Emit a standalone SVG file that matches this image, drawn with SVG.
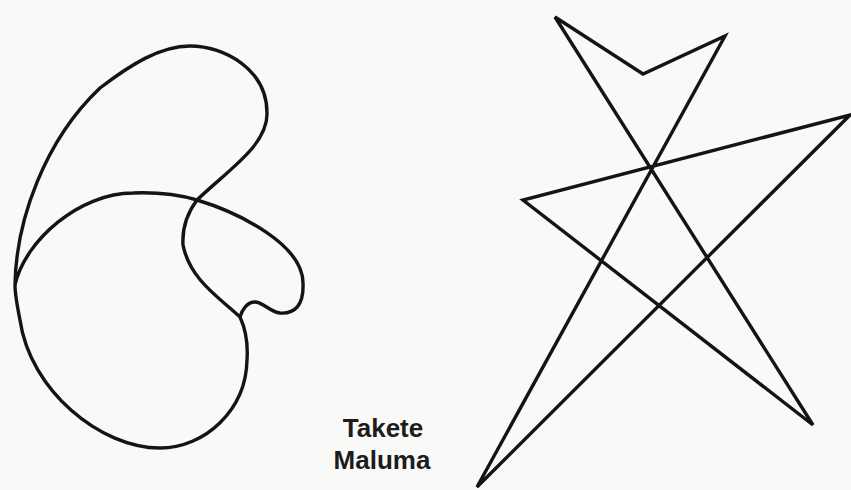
<svg xmlns="http://www.w3.org/2000/svg" width="851" height="490" viewBox="0 0 851 490">
<style>
.shape{fill:none;stroke:#141414;stroke-width:3.4;stroke-linejoin:miter;stroke-linecap:round}
.lbl{font-family:"Liberation Sans",Arial,sans-serif;font-weight:bold;font-size:26px;fill:#1c1c1c;text-anchor:middle}
</style>
<rect width="851" height="490" fill="#f9f9f7"/>
<g id="maluma-shape">
<path class="shape" d="M15,285 C16,220 45,140 100,88 C130,65 160,46 190,46 C225,46 267,70 267,113 C268,145 228,170 197,200 C188,212 182,228 183,245 C190,280 220,298 240,317 C246,330 248,345 247,360 C246,410 205,448 160,448 C100,448 30,390 20,320 C17,305 15,295 15,285 C25,240 80,193 133,193 C160,192 180,195 197,200 C240,213 303,245 303,283 C304,305 295,314 280,313 C270,312 263,302 255,302 C247,302 242,310 240,317"/>
</g>
<g id="takete-shape">
<polygon class="shape" points="555,17 643,74 725,36 477,487 850,115 523,200 813,425"/>
</g>
<g id="labels">
<text class="lbl" x="383" y="437">Takete</text>
<text class="lbl" x="382" y="469">Maluma</text>
</g>
</svg>
